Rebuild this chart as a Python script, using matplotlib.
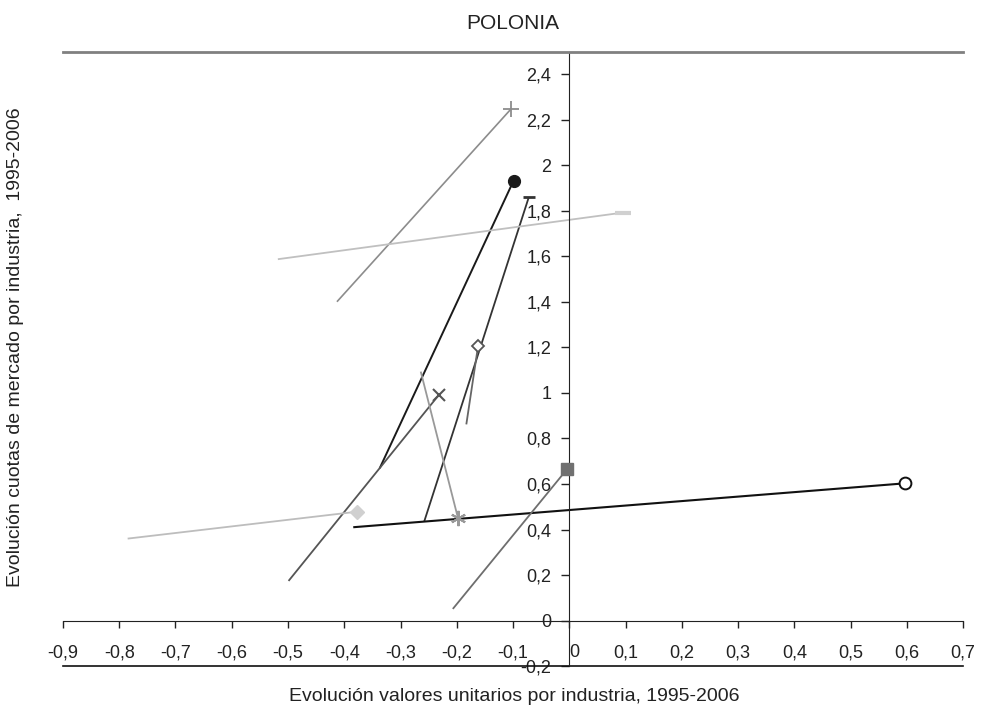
import matplotlib
matplotlib.use("Agg")
import matplotlib.pyplot as plt

plt.rcParams['font.family'] = ['Liberation Sans', 'DejaVu Sans']

# Each industry: change 1995 -> 2006 (start point, end point with marker)
x_start = [-0.413, -0.337, -0.258, -0.518, -0.183, -0.499, -0.264, -0.785, -0.384, -0.207]
y_start = [1.401, 0.669, 0.434, 1.588, 0.862, 0.174, 1.094, 0.360, 0.410, 0.051]
x_end = [-0.104, -0.099, -0.072, 0.096, -0.162, -0.232, -0.198, -0.378, 0.597, -0.004]
y_end = [2.247, 1.933, 1.860, 1.793, 1.208, 0.991, 0.452, 0.478, 0.603, 0.665]

x_ticks = [-0.9, -0.8, -0.7, -0.6, -0.5, -0.4, -0.3, -0.2, -0.1, 0, 0.1, 0.2, 0.3, 0.4, 0.5, 0.6, 0.7]
x_tick_labels = ['-0,9', '-0,8', '-0,7', '-0,6', '-0,5', '-0,4', '-0,3', '-0,2', '-0,1', '0',
                 '0,1', '0,2', '0,3', '0,4', '0,5', '0,6', '0,7']
y_ticks = [-0.2, 0, 0.2, 0.4, 0.6, 0.8, 1.0, 1.2, 1.4, 1.6, 1.8, 2.0, 2.2, 2.4]
y_tick_labels = ['-0,2', '0', '0,2', '0,4', '0,6', '0,8', '1', '1,2', '1,4', '1,6', '1,8', '2', '2,2', '2,4']

# styles per series: line colour, marker, marker size, marker face, marker edge, line width
styles = [
    dict(color='#8c8c8c', marker='+', ms=11, mfc='#8c8c8c', mec='#8c8c8c', mew=1.3, lw=1.2),
    dict(color='#1a1a1a', marker='o', ms=8.5, mfc='#1a1a1a', mec='#1a1a1a', mew=1, lw=1.4),
    dict(color='#333333', marker='_', ms=8, mfc='#333333', mec='#333333', mew=2, lw=1.3),
    dict(color='#c0c0c0', marker='_', ms=12, mfc='#d0d0d0', mec='#d0d0d0', mew=3, lw=1.3),
    dict(color='#666666', marker='D', ms=6.5, mfc='white', mec='#555555', mew=1.3, lw=1.3),
    dict(color='#555555', marker='x', ms=9, mfc='#555555', mec='#555555', mew=1.5, lw=1.3),
    dict(color='#999999', marker=(6, 2, 0), ms=11, mfc='#999999', mec='#999999', mew=1.5, lw=1.3),
    dict(color='#bdbdbd', marker='D', ms=7.5, mfc='#d0d0d0', mec='#d0d0d0', mew=1, lw=1.3),
    dict(color='#111111', marker='o', ms=8.5, mfc='white', mec='#111111', mew=1.4, lw=1.5),
    dict(color='#6e6e6e', marker='s', ms=8, mfc='#707070', mec='#707070', mew=1, lw=1.3),
]

fig = plt.figure(figsize=(9.84, 7.16), dpi=100)
ax = fig.add_axes([0.064, 0.0698, 0.9147, 0.858])

for i in range(len(x_start)):
    s = styles[i]
    ax.plot([x_start[i], x_end[i]], [y_start[i], y_end[i]], color=s['color'], lw=s['lw'],
            solid_capstyle='butt', zorder=2)
    ax.plot([x_end[i]], [y_end[i]], linestyle='none', marker=s['marker'], markersize=s['ms'],
            markerfacecolor=s['mfc'], markeredgecolor=s['mec'], markeredgewidth=s['mew'], zorder=3)

ax.set_xlim(-0.9, 0.7)
ax.set_ylim(-0.2, 2.5)

ax.spines['left'].set_position(('data', 0))
ax.spines['bottom'].set_position(('data', 0))
ax.spines['right'].set_visible(False)
ax.spines['top'].set_color('#808080')
ax.spines['top'].set_linewidth(2)
ax.spines['left'].set_color('#222222')
ax.spines['bottom'].set_color('#222222')
ax.axhline(-0.2, color='#111111', lw=1.2, clip_on=False)

ax.set_xticks(x_ticks)
ax.set_xticklabels(x_tick_labels)
ax.set_yticks(y_ticks)
ax.set_yticklabels(y_tick_labels)
ax.tick_params(axis='x', direction='out', length=5, width=1, pad=12, labelsize=13,
               colors='#222222')
ax.tick_params(axis='y', direction='out', length=6, width=1, pad=7, labelsize=13,
               colors='#222222')

# the "0" x label sits just right of the vertical axis
for lab in ax.get_xticklabels():
    if lab.get_text() == '0':
        lab.set_horizontalalignment('left')

ax.set_title('POLONIA', fontsize=15, pad=16, color='#222222')
fig.text(0.5225, 0.027, 'Evolución valores unitarios por industria, 1995-2006', ha='center',
         va='center', fontsize=14, color='#222222')
fig.text(0.016, 0.515, 'Evolución cuotas de mercado por industria,  1995-2006', rotation=90,
         ha='center', va='center', fontsize=14, color='#222222')

fig.savefig('out.png', dpi=100)
